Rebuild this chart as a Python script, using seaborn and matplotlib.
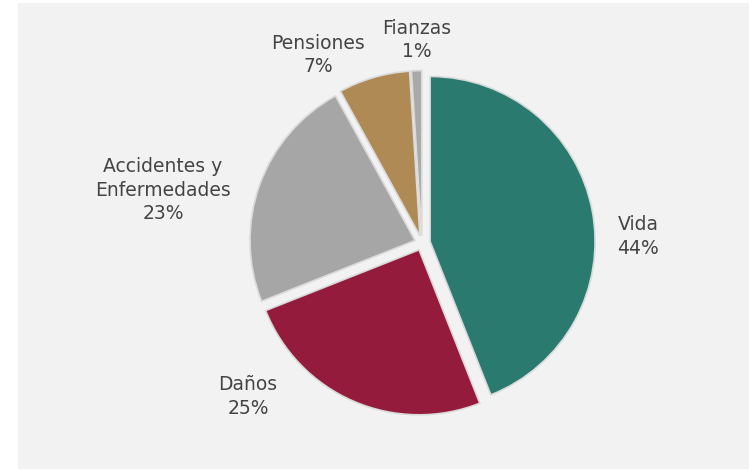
import matplotlib
matplotlib.use("Agg")
import matplotlib.pyplot as plt
from matplotlib.patches import Rectangle
import seaborn as sns

# Distribución de primas por ramo
categorias = ["Vida", "Daños", "Accidentes y\nEnfermedades", "Pensiones", "Fianzas"]
porcentajes = [44, 25, 23, 7, 1]
colores = ["#2b7a6f", "#951b3c", "#a6a6a6", "#b08a54", "#a9a9a9"]

# Label anchors (in pie-radius units) and slice offsets
pos_etiquetas = [(1.31, 0.04), (-1.055, -0.93), (-1.57, 0.32), (-0.63, 1.14), (-0.03, 1.23)]
separacion = [0.05, 0.045, 0.045, 0.045, 0.045]

sns.set_theme(style="white")
plt.rcParams["font.family"] = ["DejaVu Sans"]

W, H, DPI = 749, 470, 100
fig = plt.figure(figsize=(W / DPI, H / DPI), dpi=DPI, facecolor="white")

# light panel behind the chart
fig.patches.append(Rectangle((18 / W, 1 / H), 1 - 18 / W, 466 / H,
                             transform=fig.transFigure, facecolor="#f2f2f2",
                             edgecolor="none", zorder=-10))

ax = fig.add_axes([0, 0, 1, 1])
ax.set_facecolor("none")
ax.set_zorder(5)

cx, cy, r = 422, 243, 165
wedges, _ = ax.pie(porcentajes, colors=colores, startangle=90, counterclock=False,
                   explode=separacion, radius=1,
                   wedgeprops=dict(edgecolor="#dadada", linewidth=1.2))

for (x, y), cat, p in zip(pos_etiquetas, categorias, porcentajes):
    ax.text(x, y, f"{cat}\n{p}%", ha="center", va="center", fontsize=13.5,
            color="#444444", linespacing=1.3)

ax.set_xlim(-cx / r, (W - cx) / r)
ax.set_ylim(-(H - cy) / r, cy / r)
ax.set_aspect("equal", adjustable="box")
ax.axis("off")

fig.savefig("out.png", dpi=DPI, facecolor="white")
